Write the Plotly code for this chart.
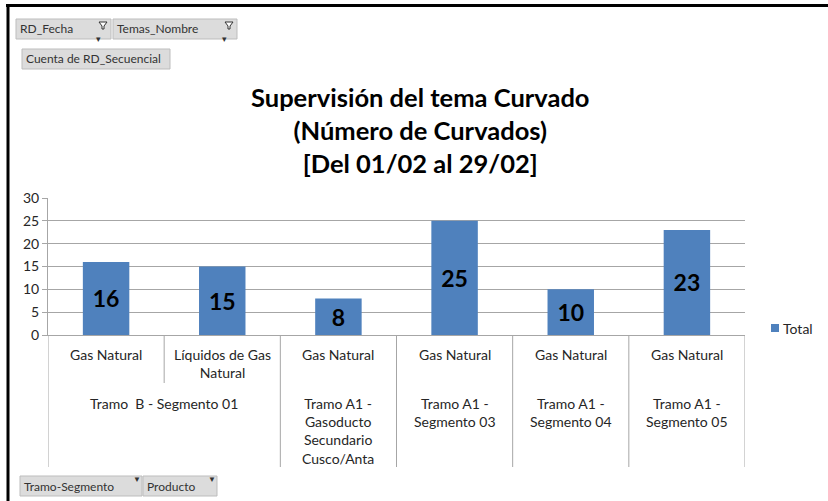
import textwrap
import plotly.graph_objects as go

# data
tramos = ["Tramo  B - Segmento 01", "Tramo  B - Segmento 01",
          "Tramo A1 - Gasoducto Secundario Cusco/Anta",
          "Tramo A1 - Segmento 03", "Tramo A1 - Segmento 04", "Tramo A1 - Segmento 05"]
productos = ["Gas Natural", "Líquidos de Gas Natural", "Gas Natural",
             "Gas Natural", "Gas Natural", "Gas Natural"]
totales = [16, 15, 8, 25, 10, 23]
y_ticks = [0, 5, 10, 15, 20, 25, 30]
serie = "Total"

W, H = 828, 501
L, R, T, B = 48, 745, 198, 335   # plot area in pixels
FONT = "Lato, 'Open Sans', sans-serif"
GRID = "#A6A6A6"
BLUE = "#4F81BD"


def xp(px):
    return (px - L) / (R - L)


def yp(py):
    return (B - py) / (B - T)


n = len(totales)
x = list(range(n))

fig = go.Figure()
fig.add_trace(go.Bar(
    x=x, y=totales, name=serie, width=0.4, showlegend=False,
    marker=dict(color=BLUE, line=dict(width=0)),
    text=totales, texttemplate="<b>%{text}</b>",
    textposition="inside", insidetextanchor="middle", textangle=0,
    textfont=dict(size=23, color="black", family=FONT),
))

shapes = []
annotations = []

# title
annotations.append(dict(
    text="<b>Supervisión del tema Curvado<br>(Número de Curvados)<br>[Del 01/02 al 29/02]</b>",
    x=xp(420), y=yp(130), xref="paper", yref="paper", showarrow=False,
    xanchor="center", yanchor="middle", font=dict(size=25.5, color="black", family=FONT),
))

# inner level: productos
for i, p in enumerate(productos):
    annotations.append(dict(
        text="<br>".join(textwrap.wrap(p, 15)), x=i, y=yp(344), xref="x", yref="paper",
        showarrow=False, xanchor="center", yanchor="top",
        font=dict(size=14, color="#262626", family=FONT),
    ))

# outer level: tramos grouped
groups = []
for i, t in enumerate(tramos):
    if groups and groups[-1][0] == t:
        groups[-1][2] = i
    else:
        groups.append([t, i, i])
for t, a, b in groups:
    span = b - a + 1
    annotations.append(dict(
        text="<br>".join(textwrap.wrap(t, 11 * span + 2)), x=(a + b) / 2, y=yp(393),
        xref="x", yref="paper", showarrow=False, xanchor="center", yanchor="top",
        font=dict(size=14, color="#262626", family=FONT),
    ))

# category dividers
for i in range(n + 1):
    xb = i - 0.5
    outer = i == 0 or i == n or tramos[i - 1] != tramos[i]
    shapes.append(dict(type="line", xref="x", yref="paper", x0=xb, x1=xb,
                       y0=0, y1=yp(467 if outer else 383),
                       line=dict(color=GRID, width=1)))

# legend
shapes.append(dict(type="rect", xref="paper", yref="paper",
                   x0=xp(771), x1=xp(779), y0=yp(324), y1=yp(332),
                   fillcolor=BLUE, line=dict(width=0)))
annotations.append(dict(text=serie, x=xp(781), y=yp(328), xref="paper", yref="paper",
                        showarrow=False, xanchor="left", yanchor="middle",
                        font=dict(size=14, color="#262626", family=FONT)))

# field buttons
buttons = [
    ("RD_Fecha", 16, 111, 19, 39, True),
    ("Temas_Nombre", 113, 237, 19, 39, True),
    ("Cuenta de RD_Secuencial", 22, 170, 49, 69, None),
    ("Tramo-Segmento", 20, 142, 476, 496, False),
    ("Producto", 143, 217, 476, 496, False),
]
for label, x0, x1, y0, y1, filt in buttons:
    shapes.append(dict(type="rect", xref="paper", yref="paper",
                       x0=xp(x0), x1=xp(x1), y0=yp(y0), y1=yp(y1),
                       fillcolor="#DCDCDC", line=dict(color="#BDBDBD", width=1), layer="below"))
    annotations.append(dict(
        text=label, x=xp(x0 + 2), y=yp((y0 + y1) / 2), xref="paper", yref="paper",
        showarrow=False, xanchor="left", yanchor="middle",
        font=dict(size=12, color="#333333", family=FONT),
    ))
    if filt is True:
        annotations.append(dict(text="▾", x=xp(x1 - 17), y=yp(y0 + 12), xref="paper", yref="paper",
                                showarrow=False, font=dict(size=9, color="#333333")))
        fx, fy = x1 - 8, y0 + 3
        shapes.append(dict(type="path", xref="paper", yref="paper",
                           path=f"M {xp(fx - 4)} {yp(fy)} L {xp(fx + 4)} {yp(fy)} L {xp(fx + 1)} {yp(fy + 4)} "
                                f"L {xp(fx + 1)} {yp(fy + 7)} L {xp(fx - 1)} {yp(fy + 7)} L {xp(fx - 1)} {yp(fy + 4)} Z",
                           fillcolor="white", line=dict(color="#333333", width=1)))
    elif filt is False:
        annotations.append(dict(text="▼", x=xp(x1 - 11), y=yp((y0 + y1) / 2), xref="paper", yref="paper",
                                showarrow=False, font=dict(size=8, color="#333333")))

# outer frame (top and left)
shapes.append(dict(type="line", xref="paper", yref="paper", x0=xp(6), x1=xp(W + 5),
                   y0=yp(5.5), y1=yp(5.5), line=dict(color="black", width=3)))
shapes.append(dict(type="line", xref="paper", yref="paper", x0=xp(8), x1=xp(8),
                   y0=yp(4), y1=yp(H + 5), line=dict(color="black", width=3)))

fig.update_layout(
    width=W, height=H,
    margin=dict(l=L, r=W - R, t=T, b=H - B, autoexpand=False),
    paper_bgcolor="white", plot_bgcolor="white",
    font=dict(family=FONT, color="#262626"),
    showlegend=False,
    xaxis=dict(range=[-0.5, n - 0.5], showticklabels=False, showgrid=False,
               showline=True, linecolor=GRID, linewidth=1, zeroline=False, fixedrange=True),
    yaxis=dict(range=[0, 30], tickvals=y_ticks, showgrid=True, gridcolor=GRID, gridwidth=1,
               showline=True, linecolor=GRID, ticks="outside", ticklen=5, tickcolor=GRID,
               zeroline=False, tickfont=dict(size=14, color="#262626", family=FONT), fixedrange=True),
    shapes=shapes,
    annotations=annotations,
)

# the page body has a default 8px margin; drop it so the figure fills the window
fig.write_html("out.html", config={"displayModeBar": False},
               post_script="document.body.style.margin='0';")
